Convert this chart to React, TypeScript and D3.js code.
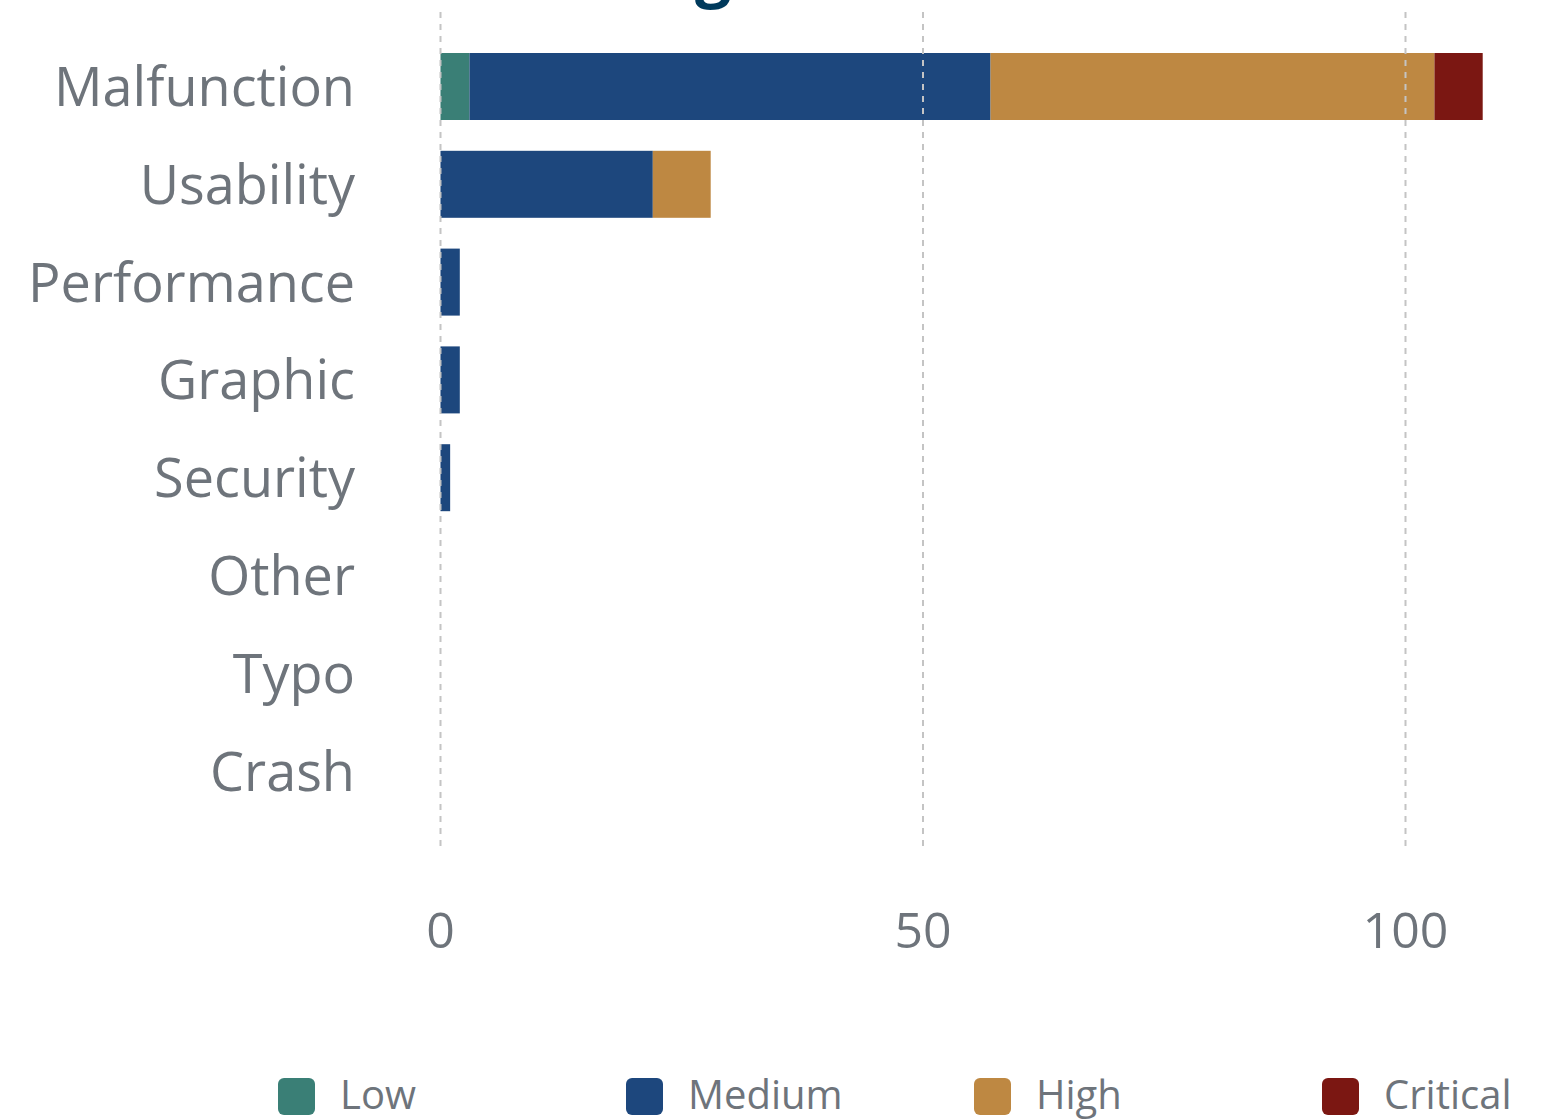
import React from "react";
import * as d3 from "d3";

const categories = ["Malfunction", "Usability", "Performance", "Graphic", "Security", "Other", "Typo", "Crash"];
const severities = ["Low", "Medium", "High", "Critical"];
const lowValues = [3, 0, 0, 0, 0, 0, 0, 0];
const mediumValues = [54, 22, 2, 2, 1, 0, 0, 0];
const highValues = [46, 6, 0, 0, 0, 0, 0, 0];
const criticalValues = [5, 0, 0, 0, 0, 0, 0, 0];
const xTicks = [0, 50, 100];
const colors = ["#3a7f76", "#1d477d", "#be8842", "#7b1712"];
const titleText = "Bugs";

const W = 1547;
const H = 1120;
const FONT = "'Open Sans', sans-serif";
const GREY = "#6e747b";

export default function App() {
  const rows = categories.map((c, i) => ({
    category: c,
    Low: lowValues[i],
    Medium: mediumValues[i],
    High: highValues[i],
    Critical: criticalValues[i],
  }));
  const stack = d3.stack<any>().keys(severities)(rows);
  const x = d3.scaleLinear().domain([0, 100]).range([440.5, 1405.5]);
  const y = d3
    .scaleBand<string>()
    .domain(categories)
    .range([37.6, 820])
    .paddingInner(0.315)
    .paddingOuter(0.1575);

  return (
    <svg
      width={W}
      height={H}
      style={{ position: "absolute", left: 0, top: 0, background: "#fff" }}
      fontFamily={FONT}
    >
      <text x={610} y={-6} fontSize={64} fontWeight={700} fill="#003a5c">
        {titleText}
      </text>
      {stack.map((layer, li) => (
        <g key={layer.key} fill={colors[li]}>
          {layer.map((d, i) =>
            d[1] - d[0] > 0 ? (
              <rect
                key={i}
                x={x(d[0])}
                y={y(categories[i])}
                width={x(d[1]) - x(d[0])}
                height={y.bandwidth()}
              />
            ) : null
          )}
        </g>
      ))}
      {xTicks.map((t) => (
        <line
          key={t}
          x1={x(t)}
          x2={x(t)}
          y1={12}
          y2={850}
          stroke="#c4c4c4"
          strokeWidth={2}
          strokeDasharray="6 6"
        />
      ))}
      {categories.map((c) => (
        <text
          key={c}
          x={355}
          y={y(c)! + y.bandwidth() / 2}
          dy="0.36em"
          textAnchor="end"
          fontSize={54}
          fill={GREY}
        >
          {c}
        </text>
      ))}
      {xTicks.map((t) => (
        <text key={t} x={x(t)} y={948} textAnchor="middle" fontSize={50} fill={GREY}>
          {t}
        </text>
      ))}
      {severities.map((s, i) => (
        <g key={s} transform={`translate(${278 + i * 348},1078)`}>
          <rect width={37} height={37} rx={6} fill={colors[i]} />
          <text x={62} y={17} dy="0.35em" fontSize={40} fill={GREY}>
            {s}
          </text>
        </g>
      ))}
    </svg>
  );
}
